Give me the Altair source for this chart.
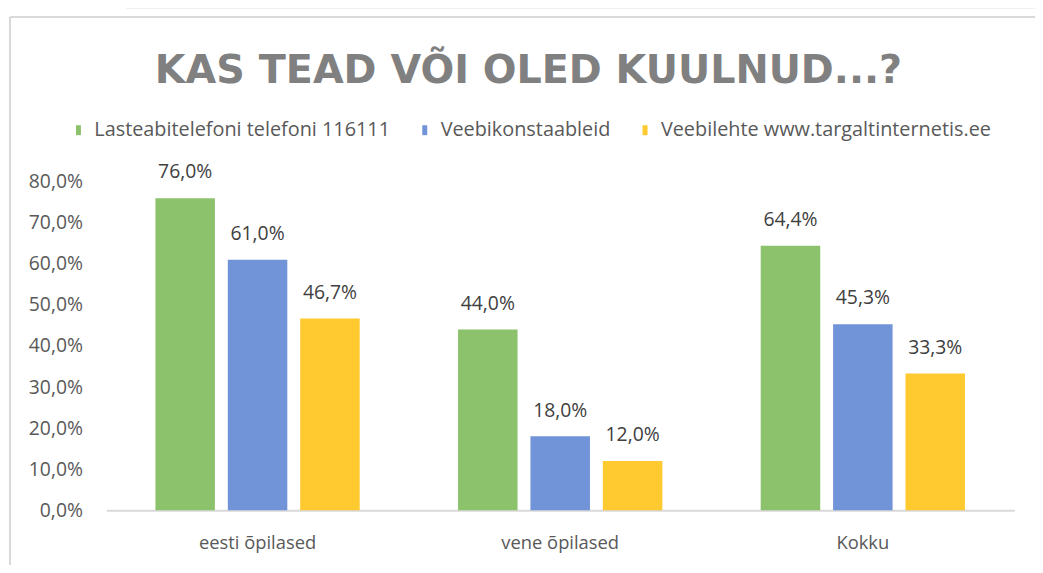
import altair as alt
import pandas as pd

categories = ["eesti õpilased", "vene õpilased", "Kokku"]
series = ["Lasteabitelefoni telefoni 116111", "Veebikonstaableid", "Veebilehte www.targaltinternetis.ee"]
vals_green = [76.0, 44.0, 64.4]
vals_blue = [61.0, 18.0, 45.3]
vals_yellow = [46.7, 12.0, 33.3]
colors = ["#8cc26c", "#7193d8", "#ffca30"]
y_ticks = [0, 10, 20, 30, 40, 50, 60, 70, 80]

rows = []
for s_i, vals in enumerate([vals_green, vals_blue, vals_yellow]):
    for c_i, v in enumerate(vals):
        rows.append({"cat": categories[c_i], "series": series[s_i], "order": s_i,
                     "value": v, "label": f"{v:.1f}%".replace(".", ",")})
df = pd.DataFrame(rows)

FONT = "Open Sans"
W, H = 915, 331

base = alt.Chart(df).encode(
    x=alt.X("cat:N", sort=categories, title=None,
            scale=alt.Scale(paddingInner=0.325, paddingOuter=0.1625),
            axis=alt.Axis(labelAngle=0, ticks=False, domainColor="#d9d9d9", domainWidth=2,
                          labelFont=FONT, labelFontSize=18.5, labelColor="#595959",
                          labelPadding=24, grid=False)),
    xOffset=alt.XOffset("series:N", sort=series, scale=alt.Scale(paddingInner=0.178)),
)

bars = base.mark_bar().encode(
    y=alt.Y("value:Q", title=None,
            scale=alt.Scale(domain=[0, 80], nice=False),
            axis=alt.Axis(values=y_ticks, grid=False, domain=False, ticks=False,
                          labelFont=FONT, labelFontSize=19.5, labelColor="#595959",
                          labelPadding=24,
                          labelExpr="replace(format(datum.value, '.1f'), '.', ',') + '%'")),
    color=alt.Color("series:N", sort=series,
                    scale=alt.Scale(domain=series, range=colors),
                    legend=alt.Legend(title=None, orient="none", direction="horizontal",
                                      legendX=-38, legendY=-62,
                                      symbolType="M-0.5,-1H0.5V1H-0.5Z", symbolSize=100,
                                      symbolStrokeWidth=0, labelLimit=0,
                                      labelFont=FONT, labelFontSize=20, labelColor="#595959",
                                      columnPadding=24, labelOffset=6)),
)

text = base.mark_text(font=FONT, fontSize=19.5, color="#404040", baseline="middle", dy=-26).encode(
    y="value:Q",
    text="label:N",
)

frame_top = alt.Chart(df).mark_rule(color="#d9d9d9", strokeWidth=2).encode(
    x=alt.value(-97), x2=alt.value(940), y=alt.value(-166))
frame_left = alt.Chart(df).mark_rule(color="#d9d9d9", strokeWidth=2).encode(
    x=alt.value(-97), y=alt.value(-166), y2=alt.value(400))
top_band = alt.Chart(df).mark_rect(color="#efefef").encode(
    x=alt.value(20), x2=alt.value(940), y=alt.value(-190), y2=alt.value(-175))

chart = alt.layer(top_band, frame_top, frame_left, bars, text).properties(
    width=W, height=H,
    padding={"left": 99, "top": 173, "right": 21, "bottom": 53},
    autosize=alt.AutoSizeParams(type="none"),
    title=alt.TitleParams("KAS TEAD VÕI OLED KUULNUD...?", font="DejaVu Sans", fontSize=40,
                          fontWeight="bold", color="#808080", anchor="middle",
                          dx=-32, offset=-98),
    background="white",
).configure_view(stroke=None)

chart.save("out.html", embed_options={"renderer": "svg", "actions": False})
